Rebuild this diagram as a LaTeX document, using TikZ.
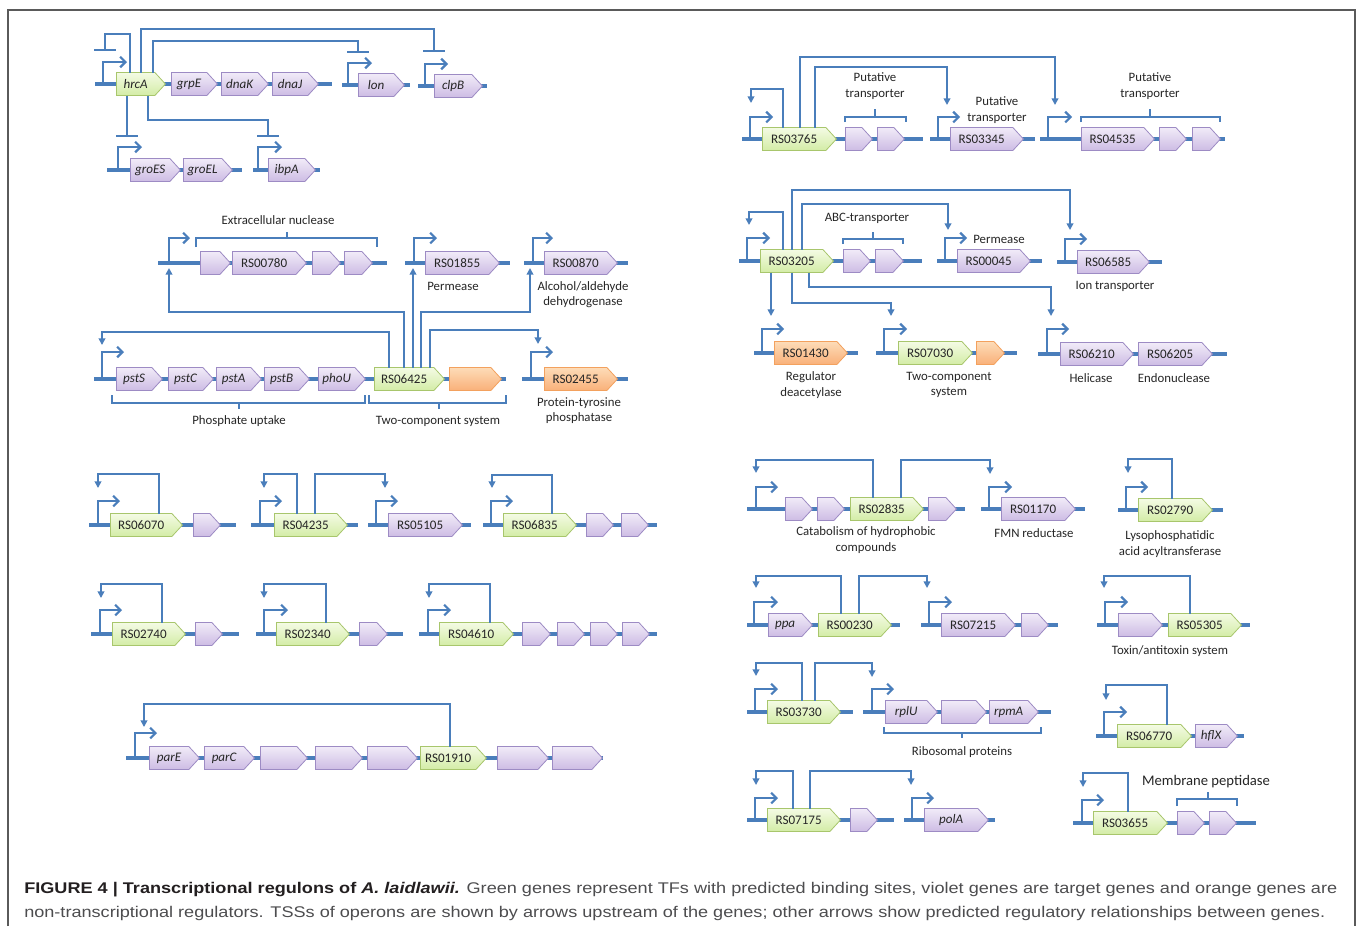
\documentclass[tikz,border=0pt]{standalone}
\usepackage{fontspec}
\setmainfont{Carlito}
\newfontfamily\capfont{Liberation Sans}
\usetikzlibrary{shapes.symbols,arrows.meta,calc}
\definecolor{lblue}{HTML}{4A7EBB}
\definecolor{vtop}{HTML}{F1EBF8}
\definecolor{vbot}{HTML}{CDBCE4}
\definecolor{vdraw}{HTML}{9D8BC4}
\definecolor{gtop}{HTML}{F4FBE4}
\definecolor{gbot}{HTML}{D3ECA6}
\definecolor{gdraw}{HTML}{A8C66C}
\definecolor{otop}{HTML}{FDDCB8}
\definecolor{obot}{HTML}{F9B079}
\definecolor{odraw}{HTML}{F3A15E}
\definecolor{txt}{HTML}{262626}
\definecolor{capdark}{HTML}{231F20}
\definecolor{capgray}{HTML}{4D4D4F}
\definecolor{framecol}{HTML}{5A5A5A}
\newlength\capw
\newcommand\fitline[2]{\settowidth\capw{#2}\scalebox{\fpeval{#1*0.75pt/\capw}}[1]{#2}}
\newcommand\gene[6]{\node[gene,#1,minimum width={(#4-#3)*0.75pt}] (#2) at (#3,#5) {#6};}
\newcommand\tss[4]{\draw[tssl] (#1,#2) -- (#1,#3) -- (#4,#3);}
\newcommand\bbone[3]{\draw[backbone] (#1,#3) -- (#2,#3);}
\tikzset{
  gene/.style={signal, signal to=east, signal from=nowhere, signal pointer angle=95,
    minimum height=23*0.75pt, inner sep=0pt, anchor=west, line width=0.6pt,
    font=\fontsize{9.8}{11}\selectfont, text=txt},
  vio/.style={draw=vdraw, top color=vtop, bottom color=vbot},
  grn/.style={draw=gdraw, top color=gtop, bottom color=gbot},
  org/.style={draw=odraw, top color=otop, bottom color=obot},
  backbone/.style={draw=lblue, line width=3.2pt},
  tssl/.style={draw=lblue, line width=1.6pt, -{Straight Barb[length=4pt,width=8pt]}},
  reg/.style={draw=lblue, line width=1.6pt, -{Triangle[length=5pt,width=5pt]}},
  rep/.style={draw=lblue, line width=1.6pt, -{Bar[width=16pt]}},
  brk/.style={draw=lblue, line width=1.6pt},
  lbl/.style={font=\fontsize{9.6}{11.4}\selectfont, text=txt, align=center, inner sep=0pt},
  capline/.style={anchor=base west, inner sep=0pt, font=\capfont\fontsize{11.6}{13}\selectfont, text=capgray},
}
\begin{document}
\begin{tikzpicture}[x=0.75pt,y=-0.75pt]
\fill[white] (0,0) rectangle (1358,926);
\useasboundingbox (0,0) rectangle (1358,926);
\draw[framecol, line width=1pt] (8,926) -- (8,10) -- (1355,10) -- (1355,926);

% ---------------- backbones ----------------
\bbone{95}{332}{84}\bbone{342}{410}{85}\bbone{418}{487}{86}
\bbone{107}{242}{170}\bbone{253}{320}{170}
\bbone{158}{387}{263}\bbone{405}{510}{263}\bbone{524}{628}{263}
\bbone{94}{506}{379}\bbone{522}{628}{379}
\bbone{742}{923}{139}\bbone{930}{1035}{139}\bbone{1040}{1225}{139}
\bbone{739}{922}{261}\bbone{937}{1042}{261}\bbone{1057}{1162}{262}
\bbone{754}{858}{353}\bbone{876}{1017}{353}\bbone{1038}{1227}{354}
\bbone{89}{236}{525}\bbone{251}{358}{525}\bbone{368}{471}{525}\bbone{483}{657}{525}
\bbone{91}{239}{634}\bbone{256}{403}{634}\bbone{419}{657}{634}
\bbone{126}{603}{758}
\bbone{747}{965}{509}\bbone{981}{1085}{509}\bbone{1118}{1223}{510}
\bbone{747}{900}{625}\bbone{921}{1058}{625}\bbone{1097}{1250}{625}
\bbone{747}{853}{712}\bbone{863}{1051}{712}
\bbone{747}{894}{820}\bbone{904}{995}{820}
\bbone{1096}{1244}{736}\bbone{1073}{1256}{823}

% ---------------- genes ----------------
\gene{grn}{hrcA}{116}{165}{84}{\itshape hrcA}
\gene{vio}{grpE}{171}{217}{84}{\itshape grpE}
\gene{vio}{dnaK}{221}{268}{84}{\itshape dnaK}
\gene{vio}{dnaJ}{272}{318}{84}{\itshape dnaJ}
\gene{vio}{lon}{358}{404}{85}{\itshape lon}
\gene{vio}{clpB}{434}{482}{86}{\itshape clpB}
\gene{vio}{groES}{130}{180}{170}{\itshape groES}
\gene{vio}{groEL}{183}{232}{170}{\itshape groEL}
\gene{vio}{ibpA}{268}{315}{170}{\itshape ibpA}

\gene{vio}{nA}{200}{230}{263}{}
\gene{vio}{RS00780}{232}{306}{263}{RS00780}
\gene{vio}{nB}{312}{340}{263}{}
\gene{vio}{nC}{344}{372}{263}{}
\gene{vio}{RS01855}{425}{499}{263}{RS01855}
\gene{vio}{RS00870}{544}{617}{263}{RS00870}
\gene{vio}{pstS}{116}{162}{379}{\itshape pstS}
\gene{vio}{pstC}{168}{213}{379}{\itshape pstC}
\gene{vio}{pstA}{216}{261}{379}{\itshape pstA}
\gene{vio}{pstB}{264}{309}{379}{\itshape pstB}
\gene{vio}{phoU}{318}{365}{379}{\itshape phoU}
\gene{grn}{RS06425}{374}{444}{379}{RS06425}
\gene{org}{oA}{449}{501}{379}{}
\gene{org}{RS02455}{544}{617}{379}{RS02455}

\gene{grn}{RS03765}{762}{836}{139}{RS03765}
\gene{vio}{pA}{845}{872}{139}{}
\gene{vio}{pB}{877}{904}{139}{}
\gene{vio}{RS03345}{950}{1023}{139}{RS03345}
\gene{vio}{RS04535}{1081}{1154}{139}{RS04535}
\gene{vio}{pC}{1159}{1186}{139}{}
\gene{vio}{pD}{1192}{1220}{139}{}

\gene{grn}{RS03205}{760}{833}{261}{RS03205}
\gene{vio}{aA}{843}{870}{261}{}
\gene{vio}{aB}{875}{903}{261}{}
\gene{vio}{RS00045}{957}{1030}{261}{RS00045}
\gene{vio}{RS06585}{1077}{1149}{262}{RS06585}
\gene{org}{RS01430}{774}{847}{353}{RS01430}
\gene{grn}{RS07030}{898}{972}{353}{RS07030}
\gene{org}{oB}{976}{1004}{353}{}
\gene{vio}{RS06210}{1060}{1133}{354}{RS06210}
\gene{vio}{RS06205}{1138}{1212}{354}{RS06205}

\gene{grn}{RS06070}{110}{182}{525}{RS06070}
\gene{vio}{sA}{193}{220}{525}{}
\gene{grn}{RS04235}{274}{347}{525}{RS04235}
\gene{vio}{RS05105}{388}{462}{525}{RS05105}
\gene{grn}{RS06835}{503}{576}{525}{RS06835}
\gene{vio}{sB}{586}{613}{525}{}
\gene{vio}{sC}{621}{648}{525}{}
\gene{grn}{RS02740}{112}{185}{634}{RS02740}
\gene{vio}{sD}{195}{222}{634}{}
\gene{grn}{RS02340}{276}{349}{634}{RS02340}
\gene{vio}{sE}{359}{387}{634}{}
\gene{grn}{RS04610}{439}{513}{634}{RS04610}
\gene{vio}{sF}{522}{550}{634}{}
\gene{vio}{sG}{557}{584}{634}{}
\gene{vio}{sH}{590}{617}{634}{}
\gene{vio}{sI}{622}{649}{634}{}

\gene{vio}{parE}{149}{199}{758}{\itshape parE}
\gene{vio}{parC}{204}{254}{758}{\itshape parC}
\gene{vio}{qA}{260}{307}{758}{}
\gene{vio}{qB}{315}{362}{758}{}
\gene{vio}{qC}{367}{417}{758}{}
\gene{grn}{RS01910}{420}{486}{758}{RS01910}
\gene{vio}{qD}{497}{548}{758}{}
\gene{vio}{qE}{552}{602}{758}{}

\gene{vio}{cA}{785}{812}{509}{}
\gene{vio}{cB}{817}{844}{509}{}
\gene{grn}{RS02835}{850}{923}{509}{RS02835}
\gene{vio}{cC}{928}{956}{509}{}
\gene{vio}{RS01170}{1001}{1075}{509}{RS01170}
\gene{grn}{RS02790}{1138}{1212}{510}{RS02790}
\gene{vio}{ppa}{768}{812}{625}{\itshape ppa}
\gene{grn}{RS00230}{818}{891}{625}{RS00230}
\gene{vio}{RS07215}{941}{1015}{625}{RS07215}
\gene{vio}{cD}{1021}{1048}{625}{}
\gene{vio}{cE}{1118}{1162}{625}{}
\gene{grn}{RS05305}{1168}{1241}{625}{RS05305}

\gene{grn}{RS03730}{767}{840}{712}{RS03730}
\gene{vio}{rplU}{885}{937}{712}{\itshape rplU}
\gene{vio}{rA}{941}{986}{712}{}
\gene{vio}{rpmA}{989}{1038}{712}{\itshape rpmA}
\gene{grn}{RS07175}{767}{840}{820}{RS07175}
\gene{vio}{rB}{850}{877}{820}{}
\gene{vio}{polA}{924}{988}{820}{\itshape polA}
\gene{grn}{RS06770}{1117}{1191}{736}{RS06770}
\gene{vio}{hflX}{1195}{1237}{736}{\itshape hflX}
\gene{grn}{RS03655}{1093}{1167}{823}{RS03655}
\gene{vio}{mA}{1177}{1204}{823}{}
\gene{vio}{mB}{1209}{1236}{823}{}

% ---------------- TSS arrows ----------------
\tss{103}{84}{62}{127}\tss{348}{85}{63}{372}\tss{425}{86}{64}{448}
\tss{118}{170}{147}{142}\tss{258}{170}{147}{282}
\tss{169}{263}{238}{190}\tss{414}{263}{238}{437}\tss{533}{263}{238}{553}
\tss{102}{379}{352}{124}\tss{531}{379}{352}{553}
\tss{750}{139}{117}{773}\tss{938}{139}{117}{960}\tss{1048}{139}{117}{1072}
\tss{747}{261}{238}{770}\tss{945}{261}{238}{967}\tss{1065}{262}{239}{1087}
\tss{762}{353}{329}{784}\tss{884}{353}{329}{907}\tss{1047}{354}{329}{1069}
\tss{98}{525}{501}{120}\tss{260}{525}{501}{282}\tss{376}{525}{501}{398}\tss{491}{525}{501}{513}
\tss{100}{634}{610}{122}\tss{264}{634}{610}{288}\tss{428}{634}{610}{451}
\tss{135}{758}{733}{157}
\tss{756}{509}{487}{778}\tss{989}{509}{487}{1012}\tss{1126}{510}{487}{1148}
\tss{754}{625}{602}{778}\tss{929}{625}{602}{952}\tss{1105}{625}{602}{1128}
\tss{755}{712}{689}{778}\tss{872}{712}{689}{894}
\tss{755}{820}{798}{778}\tss{912}{820}{798}{934}
\tss{1104}{736}{712}{1127}\tss{1082}{823}{800}{1104}

% ---------------- brackets ----------------
\draw[brk] (196,247) |- (377,238) -- (377,247); \draw[brk] (287,238) -- (287,232);
\draw[brk] (112,395) |- (365,403) -- (365,395); \draw[brk] (239,403) -- (239,409);
\draw[brk] (369,395) |- (506,403) -- (506,395); \draw[brk] (439,403) -- (439,409);
\draw[brk] (845,122) |- (906,117) -- (906,122); \draw[brk] (875,117) -- (875,109);
\draw[brk] (1081,122) |- (1220,117) -- (1220,122); \draw[brk] (1150,117) -- (1150,109);
\draw[brk] (843,244) |- (903,239) -- (903,244); \draw[brk] (873,239) -- (873,232);
\draw[brk] (884,727) |- (1041,733) -- (1041,727); \draw[brk] (962,733) -- (962,738);
\draw[brk] (1177,806) |- (1237,799) -- (1237,806); \draw[brk] (1208,799) -- (1208,792);

% ---------------- regulation: hrcA ----------------
\coordinate (tHself) at (105,51);
\coordinate (tHclpB) at (434,52);
\coordinate (tHlon) at (358,53);
\coordinate (tHgroES) at (127,137);
\coordinate (tHibpA) at (268,137);
\draw[rep] ($(hrcA.west)+(14,-11.5)$) -- ++(0,-38.5) -| (tHself);
\draw[rep] ($(hrcA.west)+(25,-11.5)$) -- ++(0,-43.5) -| (tHclpB);
\draw[rep] ($(hrcA.west)+(37,-11.5)$) -- ++(0,-31.5) -| (tHlon);
\draw[rep] ($(hrcA.west)+(11,11.5)$) -- (tHgroES);
\draw[rep] ($(hrcA.west)+(32,11.5)$) -- ++(0,24.5) -| (tHibpA);

% ---------------- RS06425 ----------------
\coordinate (tApst) at (102,345);
\coordinate (tA780) at (169,268);
\coordinate (tA1855) at (413,268);
\coordinate (tA870) at (530,268);
\coordinate (tA2455) at (538,344);
\draw[reg] ($(RS06425.west)+(15,-11.5)$) -- ++(0,-35.5) -| (tApst);
\draw[reg] ($(RS06425.west)+(30,-11.5)$) -- ++(0,-55.5) -| (tA780);
\draw[reg] ($(RS06425.west)+(39,-11.5)$) -- (tA1855);
\draw[reg] ($(RS06425.west)+(47,-11.5)$) -- ++(0,-55.5) -| (tA870);
\draw[reg] ($(RS06425.west)+(56,-11.5)$) -- ++(0,-37.5) -| (tA2455);

% ---------------- RS03765 ----------------
\coordinate (tBself) at (751,103);
\coordinate (tB4535) at (1055,105);
\coordinate (tB3345) at (947,105);
\draw[reg] ($(RS03765.west)+(21,-11.5)$) -- ++(0,-38.5) -| (tBself);
\draw[reg] ($(RS03765.west)+(38,-11.5)$) -- ++(0,-70.5) -| (tB4535);
\draw[reg] ($(RS03765.west)+(53,-11.5)$) -- ++(0,-60.5) -| (tB3345);

% ---------------- RS03205 ----------------
\coordinate (tCself) at (749,225);
\coordinate (tC6585) at (1070,230);
\coordinate (tC0045) at (948,230);
\coordinate (tC1430) at (771,316);
\coordinate (tC7030) at (891,316);
\coordinate (tC6210) at (1051,316);
\draw[reg] ($(RS03205.west)+(23,-11.5)$) -- ++(0,-37.5) -| (tCself);
\draw[reg] ($(RS03205.west)+(32,-11.5)$) -- ++(0,-59.5) -| (tC6585);
\draw[reg] ($(RS03205.west)+(42,-11.5)$) -- ++(0,-45.5) -| (tC0045);
\draw[reg] ($(RS03205.west)+(11,11.5)$) -- (tC1430);
\draw[reg] ($(RS03205.west)+(32,11.5)$) -- ++(0,30.5) -| (tC7030);
\draw[reg] ($(RS03205.west)+(49,11.5)$) -- ++(0,14.5) -| (tC6210);

% ---------------- small regulons ----------------
\coordinate (tD1) at (98,488);
\coordinate (tD2) at (264,488);
\coordinate (tD3) at (385,488);
\coordinate (tD4) at (492,488);
\coordinate (tD5) at (101,598);
\coordinate (tD6) at (264,598);
\coordinate (tD7) at (429,598);
\coordinate (tD8) at (144,727);
\draw[reg] ($(RS06070.west)+(49,-11.5)$) -- ++(0,-39.5) -| (tD1);
\draw[reg] ($(RS04235.west)+(23,-11.5)$) -- ++(0,-39.5) -| (tD2);
\draw[reg] ($(RS04235.west)+(41,-11.5)$) -- ++(0,-39.5) -| (tD3);
\draw[reg] ($(RS06835.west)+(49,-11.5)$) -- ++(0,-38.5) -| (tD4);
\draw[reg] ($(RS02740.west)+(50,-11.5)$) -- ++(0,-38.5) -| (tD5);
\draw[reg] ($(RS02340.west)+(50,-11.5)$) -- ++(0,-38.5) -| (tD6);
\draw[reg] ($(RS04610.west)+(51,-11.5)$) -- ++(0,-38.5) -| (tD7);
\draw[reg] ($(RS01910.west)+(30,-11.5)$) -- ++(0,-42.5) -| (tD8);

\coordinate (tE1) at (756,473);
\coordinate (tE2) at (990,474);
\coordinate (tE3) at (1128,473);
\coordinate (tE4) at (756,588);
\coordinate (tE5) at (927,588);
\coordinate (tE6) at (1104,588);
\coordinate (tE7) at (756,676);
\coordinate (tE8) at (872,677);
\coordinate (tE9) at (756,785);
\coordinate (tE10) at (911,785);
\coordinate (tE11) at (1106,700);
\coordinate (tE12) at (1083,787);
\draw[reg] ($(RS02835.west)+(23,-11.5)$) -- ++(0,-37.5) -| (tE1);
\draw[reg] ($(RS02835.west)+(51,-11.5)$) -- ++(0,-37.5) -| (tE2);
\draw[reg] ($(RS02790.west)+(34,-11.5)$) -- ++(0,-39.5) -| (tE3);
\draw[reg] ($(RS00230.west)+(23,-11.5)$) -- ++(0,-37.5) -| (tE4);
\draw[reg] ($(RS00230.west)+(41,-11.5)$) -- ++(0,-37.5) -| (tE5);
\draw[reg] ($(RS05305.west)+(22,-11.5)$) -- ++(0,-37.5) -| (tE6);
\draw[reg] ($(RS03730.west)+(35,-11.5)$) -- ++(0,-37.5) -| (tE7);
\draw[reg] ($(RS03730.west)+(48,-11.5)$) -- ++(0,-37.5) -| (tE8);
\draw[reg] ($(RS07175.west)+(26,-11.5)$) -- ++(0,-37.5) -| (tE9);
\draw[reg] ($(RS07175.west)+(43,-11.5)$) -- ++(0,-37.5) -| (tE10);
\draw[reg] ($(RS06770.west)+(50,-11.5)$) -- ++(0,-39.5) -| (tE11);
\draw[reg] ($(RS03655.west)+(35,-11.5)$) -- ++(0,-38.5) -| (tE12);

% ---------------- labels ----------------
\node[lbl] (lExt) at (278,220) {Extracellular nuclease};
\node[lbl] (lPerm1) at (453,286) {Permease};
\node[lbl] (lAlc) at (583,295) {Alcohol/aldehyde\\dehydrogenase};
\node[lbl] (lPho) at (239,421) {Phosphate uptake};
\node[lbl] (lTwo1) at (438,421) {Two-component system};
\node[lbl] (lPtp) at (579,411) {Protein-tyrosine\\phosphatase};
\node[lbl] (lPut1) at (875,86) {Putative\\transporter};
\node[lbl] (lPut2) at (997,110) {Putative\\transporter};
\node[lbl] (lPut3) at (1150,86) {Putative\\transporter};
\node[lbl] (lABC) at (867,218) {ABC-transporter};
\node[lbl] (lPerm2) at (999,239) {Permease};
\node[lbl] (lIon) at (1115,286) {Ion transporter};
\node[lbl] (lReg) at (811,385) {Regulator\\deacetylase};
\node[lbl] (lTwo2) at (949,385) {Two-component\\system};
\node[lbl] (lHel) at (1091,378) {Helicase};
\node[lbl] (lEndo) at (1174,378) {Endonuclease};
\node[lbl] (lCat) at (866,540) {Catabolism of hydrophobic\\compounds};
\node[lbl] (lFMN) at (1034,533) {FMN reductase};
\node[lbl] (lLyso) at (1170,544) {Lysophosphatidic\\acid acyltransferase};
\node[lbl] (lTox) at (1170,651) {Toxin/antitoxin system};
\node[lbl] (lRib) at (962,752) {Ribosomal proteins};
\node[lbl, font=\fontsize{11}{13}\selectfont] (lMem) at (1206,782) {Membrane peptidase};

% ---------------- caption ----------------
\node[capline] (cap1) at (24,893) {\fitline{1313}{{\bfseries\color{capdark}FIGURE 4 | Transcriptional regulons of \textit{A. laidlawii.}} Green genes represent TFs with predicted binding sites, violet genes are target genes and orange genes are}};
\node[capline] (cap2) at (24,917) {\fitline{1301}{non-transcriptional regulators. TSSs of operons are shown by arrows upstream of the genes; other arrows show predicted regulatory relationships between genes.}};
\end{tikzpicture}
\end{document}
